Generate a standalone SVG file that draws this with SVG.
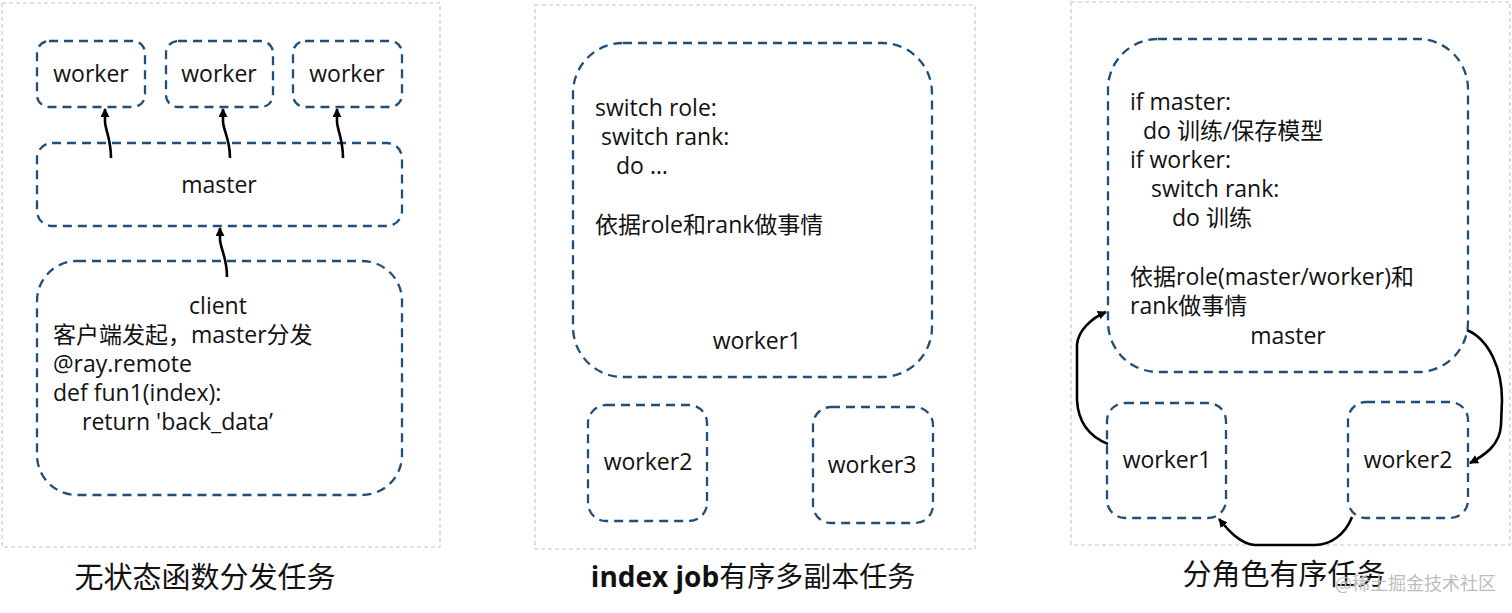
<svg xmlns="http://www.w3.org/2000/svg" width="1512" height="613" viewBox="0 0 1512 613">
<style>
.panel{fill:none;stroke:#c8c8c8;stroke-width:1.2;stroke-dasharray:4 3}
.node{fill:none;stroke:#1f4e79;stroke-width:2.3;stroke-dasharray:9 6}
.t{font-family:"Open Sans","Noto Sans CJK SC",sans-serif;font-size:23px;fill:#111}
.c{text-anchor:middle}
.title{font-family:"Open Sans","Noto Sans CJK SC",sans-serif;font-size:29px;fill:#111;text-anchor:middle}
.conn{fill:none;stroke:#000;stroke-width:2.6;marker-end:url(#ah)}
.wm{font-family:"Noto Sans CJK SC",sans-serif;font-size:18px;fill:#bdbdbd}
</style>
<defs>
<marker id="ah" viewBox="0 0 10 10" refX="9" refY="5" markerWidth="9" markerHeight="9" markerUnits="userSpaceOnUse" orient="auto">
<path d="M0,0 L10,5 L0,10 z" fill="#000"/>
</marker>
</defs>
<rect width="1512" height="613" fill="#fff"/>

<g id="panel-left">
<rect class="panel" x="2" y="3" width="438" height="544"/>
<text class="title" x="205" y="588">无状态函数分发任务</text>
</g>
<g id="panel-middle">
<rect class="panel" x="535" y="5" width="440" height="544"/>
<text class="title" x="753" y="587" style="font-size:28px"><tspan font-weight="bold">index job</tspan>有序多副本任务</text>
</g>
<g id="panel-right">
<rect class="panel" x="1071" y="2" width="439" height="543"/>
<text class="title" x="1284" y="585">分角色有序任务</text>
</g>

<g id="L-worker-a"><rect class="node" x="37" y="41" width="108" height="66" rx="12"/><text class="t c" x="91" y="82">worker</text></g>
<g id="L-worker-b"><rect class="node" x="166" y="41" width="107" height="66" rx="12"/><text class="t c" x="219" y="82">worker</text></g>
<g id="L-worker-c"><rect class="node" x="293" y="41" width="109" height="66" rx="12"/><text class="t c" x="347" y="82">worker</text></g>
<g id="L-master"><rect class="node" x="37" y="143" width="365" height="83" rx="15"/><text class="t c" x="219" y="193">master</text></g>
<g id="L-client"><rect class="node" x="37" y="261" width="365" height="234" rx="40"/>
<text class="t c" x="218" y="314">client</text>
<text class="t" x="53" y="343">客户端发起，master分发</text>
<text class="t" x="53" y="372">@ray.remote</text>
<text class="t" x="53" y="401">def fun1(index):</text>
<text class="t" x="82" y="430">return 'back_data’</text>
</g>

<g id="M-worker1"><rect class="node" x="573" y="43" width="359" height="334" rx="50"/>
<text class="t" x="595" y="116">switch role:</text>
<text class="t" x="601" y="145">switch rank:</text>
<text class="t" x="616" y="174">do …</text>
<text class="t" x="595" y="233">依据role和rank做事情</text>
<text class="t c" x="757" y="349">worker1</text>
</g>
<g id="M-worker2"><rect class="node" x="588" y="405" width="119" height="116" rx="18"/><text class="t c" x="648" y="470">worker2</text></g>
<g id="M-worker3"><rect class="node" x="813" y="407" width="120" height="116" rx="18"/><text class="t c" x="872" y="473">worker3</text></g>

<g id="R-master"><rect class="node" x="1108" y="39" width="360" height="333" rx="50"/>
<text class="t" x="1130" y="110">if master:</text>
<text class="t" x="1143" y="139">do 训练/保存模型</text>
<text class="t" x="1130" y="168">if worker:</text>
<text class="t" x="1151" y="197">switch rank:</text>
<text class="t" x="1172" y="226">do 训练</text>
<text class="t" x="1130" y="285">依据role(master/worker)和</text>
<text class="t" x="1130" y="314">rank做事情</text>
<text class="t c" x="1288" y="344">master</text>
</g>
<g id="R-worker1"><rect class="node" x="1107" y="403" width="119" height="115" rx="18"/><text class="t c" x="1167" y="468">worker1</text></g>
<g id="R-worker2"><rect class="node" x="1348" y="402" width="120" height="116" rx="18"/><text class="t c" x="1408" y="468">worker2</text></g>

<g id="connectors">
<path class="conn" d="M111,158 C111,140 106,132 105,122 L105,109"/>
<path class="conn" d="M230,158 C230,140 224,132 223,122 L223,109"/>
<path class="conn" d="M343,158 C343,140 338,132 337,122 L337,109"/>
<path class="conn" d="M227,277 C227,258 221,250 220,240 L220,228"/>
<path class="conn" d="M1108,444 C1088,436 1078,420 1077,400 L1077,345 C1078,330 1092,318 1106,312"/>
<path class="conn" d="M1467,330 C1490,340 1502,370 1502,400 L1501,425 C1500,445 1485,455 1470,463"/>
<path class="conn" d="M1352,517 C1345,535 1330,545 1315,545 L1255,545 C1240,544 1228,530 1219,519"/>
</g>

<text class="wm" x="1335" y="590">@稀土掘金技术社区</text>
</svg>
